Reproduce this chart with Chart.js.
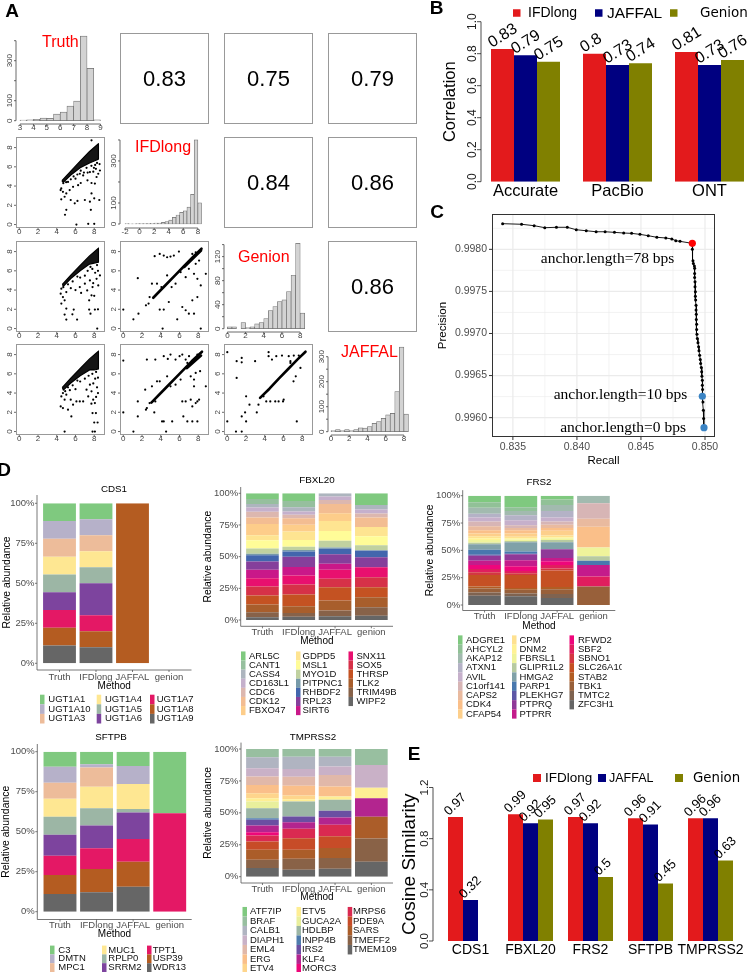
<!DOCTYPE html>
<html>
<head>
<meta charset="utf-8">
<title>IFDlong benchmark figure</title>
<script src="https://cdn.jsdelivr.net/npm/chart.js@4.4.1/dist/chart.umd.min.js"></script>
<style>
  html, body { margin: 0; padding: 0; background: #fff; width: 750px; height: 972px; overflow: hidden; }
  canvas { position: absolute; left: 0; top: 0; }
</style>
</head>
<body>
<script>
// ---------- A: pairs plot ----------
const corrValues = [0.83, 0.75, 0.79, 0.84, 0.86, 0.86];
const pairNames = ['Truth', 'IFDlong', 'Genion', 'JAFFAL'];

const histTruthBins = [3, 3.5, 4, 4.5, 5, 5.5, 6, 6.5, 7, 7.5, 8, 8.5];
const histTruthCounts = [3, 4, 7, 13, 12, 33, 43, 73, 98, 423, 262, 4];
const histIFDBins = [-2, -1.5, -1, -0.5, 0, 0.5, 1, 1.5, 2, 2.5, 3, 3.5, 4, 4.5, 5, 5.5, 6, 6.5, 7, 7.5, 8];
const histIFDCounts = [2, 1, 1, 2, 2, 2, 3, 3, 4, 5, 8, 12, 19, 32, 43, 55, 63, 80, 141, 400, 101];
const histGenionBins = [0, 0.5, 1, 1.5, 2, 2.5, 3, 3.5, 4, 4.5, 5, 5.5, 6, 6.5, 7, 7.5, 8];
const histGenionCounts = [3, 3, 0, 10, 2, 3, 8, 10, 17, 30, 37, 45, 48, 62, 89, 142, 26];
const histJaffalBins = [0, 0.5, 1, 1.5, 2, 2.5, 3, 3.5, 4, 4.5, 5, 5.5, 6, 6.5, 7, 7.5, 8];
const histJaffalCounts = [4, 8, 4, 8, 4, 8, 15, 14, 20, 33, 40, 53, 67, 73, 160, 338, 70];

const scatterTicks = [0, 2, 4, 6, 8];
const scatterTickLabels = ['0', '2', '4', '6', '8'];
const histTruthXTicks = [3, 4, 5, 6, 7, 8, 9];
const histTruthXLabels = ['3', '4', '5', '6', '7', '8', '9'];
const histTruthYTicks = [0, 100, 200, 300, 400];
const histTruthYLabels = ['0', '100', '', '300', ''];
const histIFDXTicks = [-2, 0, 2, 4, 6, 8];
const histIFDXLabels = ['-2', '0', '2', '4', '6', '8'];
const histIFDYTicks = [0, 100, 200, 300, 400];
const histIFDYLabels = ['0', '100', '', '300', ''];
const histGenionYTicks = [0, 20, 40, 60, 80, 100, 120, 140];
const histGenionYLabels = ['0', '', '40', '', '80', '', '120', ''];
const histJaffalYTicks = [0, 50, 100, 150, 200, 250, 300];
const histJaffalYLabels = ['0', '', '100', '', '200', '', '300'];

// lower panels: [x, y] points, dense wedge outlines and dense diagonal bands
const scTruthIFD = [[4.41,3.58],[4.66,3.4],[4.48,2.62],[5.02,3.23],[5.38,3.58],[5.74,3.92],[6.28,4.09],[6.56,4.32],[4.48,3.75],[4.84,2.89],[5.49,2.55],[6.21,2.45],[7.0,2.55],[7.54,2.38],[6.46,5.28],[6.82,5.11],[7.28,4.6],[7.71,4.32],[8.07,4.26],[8.25,4.94],[7.54,5.45],[8.18,5.79],[8.43,5.28],[8.61,5.62],[7.71,3.23],[8.0,2.72],[8.54,2.55],[7.64,1.53],[5.92,2.21],[5.02,1.53],[4.88,1.02],[6.1,0],[7.36,0.07],[8.0,0.07],[7.71,8.75],[6.56,5.6],[7.18,5.9],[7.97,5.9],[8.57,6.29],[6.0,4.77],[5.2,4.43],[7.9,5.5],[5.5,4.7],[5.8,5.0],[6.2,5.2],[4.7,4.3],[5.0,4.4],[7.3,5.4],[6.9,5.4],[8.3,6.4],[7.7,6.1],[8.1,6.2]];
const denseTruthIFD = [[4.55,4.55],[5.5,5.55],[6.5,6.6],[7.5,7.6],[8.45,8.4],[8.45,6.8],[8.0,6.6],[7.5,6.4],[6.5,5.9],[5.5,5.15],[4.7,4.4]];
const scTruthGenion = [[4.49,4.14],[4.42,3.62],[4.66,3.27],[5.02,3.79],[4.84,2.93],[4.49,2.59],[5.02,2.07],[4.84,1.45],[5.02,0.93],[5.81,1.97],[6.17,0.93],[5.67,1.48],[6.46,4.31],[7.0,4.66],[7.25,3.96],[7.54,5.0],[7.82,4.31],[7.46,2.93],[7.71,3.45],[7.6,1.55],[8.07,1.97],[7.46,1.97],[8.32,0],[7.89,4.72],[8.43,4.48],[8.25,5.17],[8.61,5.52],[6.5,5.3],[7.0,5.5],[7.3,6.0],[7.8,6.2],[6.2,5.4],[5.7,4.9],[5.2,4.6],[4.7,4.3],[8.4,6.0],[8.1,5.8],[5.5,4.2],[6.0,4.0],[6.6,3.7],[8.0,3.4],[8.4,2.0],[8.3,6.6],[7.6,6.4]];
const denseTruthGenion = [[4.6,4.6],[5.5,5.55],[6.5,6.55],[7.5,7.55],[8.45,8.35],[8.45,6.9],[8.0,6.8],[7.5,6.7],[6.5,6.0],[5.5,5.2],[4.7,4.4]];
const scTruthJaffal = [[4.66,4.0],[4.49,3.65],[4.84,3.31],[5.02,3.83],[5.49,3.31],[5.74,2.79],[5.2,2.27],[6.1,3.13],[6.46,3.13],[6.82,3.13],[7.18,4.35],[7.36,3.65],[7.54,4.87],[7.71,4.18],[7.89,3.31],[8.07,2.96],[7.82,1.92],[8.18,1.92],[8.0,0.94],[8.36,0.94],[8.07,0],[7.82,0],[4.84,0],[4.42,2.61],[4.66,2.44],[5.56,1.57],[6.5,5.2],[7.0,5.5],[6.2,5.3],[5.7,4.8],[5.2,4.6],[4.9,4.2],[8.4,5.6],[8.1,5.5],[8.3,4.6],[7.9,5.0],[8.2,3.6],[7.7,2.9],[8.4,4.0],[6.0,4.4],[5.4,4.3],[7.4,5.8],[8.2,6.2],[7.8,6.0]];
const denseTruthJaffal = [[4.6,4.6],[5.5,5.55],[6.5,6.55],[7.5,7.55],[8.45,8.35],[8.45,6.5],[8.0,6.4],[7.5,6.4],[6.5,5.8],[5.5,5.05],[4.7,4.3]];
const scIFDGenion = [[0,1.97],[1.08,0.96],[1.62,1.55],[1.55,5.24],[2.42,2.41],[2.7,2.59],[2.81,3.27],[3.06,4.66],[3.35,7.52],[3.89,7.76],[4.32,7.59],[4.68,7.41],[5.04,7.48],[5.4,7.59],[5.94,8.0],[3.89,1.97],[4.32,1.97],[4.2,0],[4.86,2.76],[5.76,0.96],[6.3,2.24],[6.66,1.9],[7.0,1.55],[7.55,1.55],[7.37,2.93],[7.91,3.27],[7.91,5.17],[8.27,4.48],[8.81,5.69],[8.27,0],[7.37,7.76],[7.73,7.93],[8.09,7.07],[3.6,4.66],[4.07,4.31],[4.68,5.52],[5.16,4.31],[5.58,4.66],[6.12,5.86],[6.66,5.34],[7.0,6.21],[7.55,5.69],[7.73,6.73]];
const bandIFDGenion = [[[3.2,3.2],[4.5,4.5],[5.5,5.5],[6.5,6.5],[7.5,7.5],[8.35,8.3]], [[6.5,6.4],[8.3,8.1]]];
const scIFDJaffal = [[0,7.38],[0,1.99],[1.08,0],[1.55,3.13],[1.55,1.57],[2.42,2.27],[2.52,2.44],[2.81,2.96],[3.42,3.13],[2.52,7.48],[3.42,7.48],[3.89,5.22],[3.31,1.99],[4.32,1.05],[4.14,1.05],[5.22,1.05],[4.57,0],[4.32,7.83],[4.75,7.55],[5.04,8.0],[5.58,7.48],[6.01,7.83],[6.3,8.0],[6.66,7.48],[7.02,7.83],[7.91,8.0],[6.3,3.13],[6.66,3.13],[7.2,3.31],[7.37,2.61],[7.73,2.96],[7.91,3.13],[8.09,3.31],[6.84,1.05],[7.37,1.05],[7.91,1.05],[6.41,1.57],[8.81,4.7],[7.55,4.7],[7.55,5.4],[7.2,5.74],[7.73,6.09],[8.2,6.27],[6.12,5.4],[5.58,4.87],[5.04,4.7],[4.68,5.74],[6.84,7.13],[3.6,5.22],[3.06,4.7],[2.34,4.35]];
const bandIFDJaffal = [[[3.0,3.0],[4.5,4.5],[6,6],[7.3,7.3],[8.4,8.3]], [[6.8,6.6],[8.3,7.9]]];
const scGenionJaffal = [[0,8.25],[0,1.05],[1.0,7.31],[1.0,5.57],[1.54,7.65],[1.54,7.2],[0.93,0],[1.54,0],[1.54,1.57],[1.9,1.99],[2.01,1.05],[2.01,3.66],[2.37,2.79],[2.97,7.31],[3.15,1.99],[3.33,2.79],[3.87,3.66],[4.41,8.25],[4.41,7.83],[4.77,7.48],[5.23,7.83],[5.84,7.9],[6.56,7.83],[6.74,7.31],[7.1,7.9],[7.63,7.9],[4.59,3.13],[5.12,3.13],[5.48,3.13],[5.95,3.13],[4.16,3.13],[6.02,3.31],[7.07,5.22],[7.31,5.74],[7.42,1.05],[6.74,7.13],[7.81,6.61]];
const bandGenionJaffal = [[[3.5,3.5],[4.5,4.45],[5.5,5.5],[6.5,6.5],[7.5,7.5],[8.35,8.3]]];

// ---------- B: correlation by platform ----------
const seriesNames = ['IFDlong', 'JAFFAL', 'Genion'];
const platformsB = ['Accurate', 'PacBio', 'ONT'];
const corrIFDlongB = [0.83, 0.80, 0.81];
const corrJAFFALB = [0.79, 0.73, 0.73];
const corrGenionB = [0.75, 0.74, 0.76];
const corrTicksB = [0, 0.2, 0.4, 0.6, 0.8, 1.0];
const corrTickLabelsB = ['0.0', '0.2', '0.4', '0.6', '0.8', '1.0'];

// ---------- C: precision / recall over anchor length ----------
const recallC = [0.83420,0.83568,0.83666,0.83749,0.83840,0.83925,0.83995,0.84073,0.84150,0.84220,0.84293,0.84365,0.84427,0.84492,0.84557,0.84624,0.84694,0.84741,0.84772,0.84805,0.84901,
  0.84901,0.84901,0.84906,0.84909,0.84917,0.84919,0.84919,0.84919,0.84922,0.84922,0.84925,0.84925,0.84927,0.84930,0.84930,0.84932,0.84932,0.84935,0.84935,0.84937,0.84940,0.84945,0.84950,0.84953,0.84958,0.84963,0.84966,0.84971,0.84974,0.84976,0.84979,0.84979,0.84981,0.84979,0.84984,0.84987,0.84989,0.84992];
const precisionC = [0.998305,0.998298,0.998281,0.998257,0.998262,0.998262,0.998233,0.998221,0.998209,0.998209,0.998202,0.998194,0.998190,0.998178,0.998162,0.998143,0.998135,0.998123,0.998103,0.998095,0.998071,
  0.998051,0.998000,0.997865,0.997833,0.997801,0.997774,0.997714,0.997666,0.997615,0.997555,0.997496,0.997444,0.997397,0.997337,0.997278,0.997230,0.997167,0.997111,0.997048,0.996992,0.996941,0.996889,0.996841,0.996794,0.996742,0.996691,0.996643,0.996595,0.996544,0.996492,0.996445,0.996385,0.996334,0.996254,0.996187,0.996088,0.995989,0.995881];
const anchorLabels = ['anchor.length=78 bps', 'anchor.length=10 bps', 'anchor.length=0 bps'];
const anchorRecall = [0.84901, 0.84979, 0.84992];
const anchorPrecision = [0.998071, 0.996254, 0.995881];
const recallTicks = [0.835, 0.840, 0.845, 0.850];
const recallTickLabels = ['0.835', '0.840', '0.845', '0.850'];
const recallMinor = [0.8375, 0.8425, 0.8475];
const precisionTicks = [0.9960, 0.9965, 0.9970, 0.9975, 0.9980];
const precisionTickLabels = ['0.9960', '0.9965', '0.9970', '0.9975', '0.9980'];
const precisionMinor = [0.99625, 0.99675, 0.99725, 0.99775, 0.99825];

// ---------- D: relative isoform abundance ----------
const methodLabels = ['Truth', 'IFDlong', 'JAFFAL', 'genion'];
const pctTicks = [0, 25, 50, 75, 100];
const pctLabels = ['0%', '25%', '50%', '75%', '100%'];

const cds1Genes = ['UGT1A1','UGT1A10','UGT1A3','UGT1A4','UGT1A5','UGT1A6','UGT1A7','UGT1A8','UGT1A9'];
const cds1Truth = [11.1,11.1,11.1,11.1,11.1,11.1,11.1,11.1,11.1];
const cds1IFDlong = [10,10,10,10,10,20,10,10,10];
const cds1JAFFAL = [0,0,0,0,0,0,0,100,0];
const cds1Genion = [0,0,0,0,0,0,0,0,0];

const fbxl20Genes = ['ARL5C','CANT1','CASS4','CD163L1','CDC6','CDK12','FBXO47','GDPD5','MSL1','MYO1D','PITPNC1','RHBDF2','RPL23','SIRT6','SNX11','SOX5','THRSP','TLK2','TRIM49B','WIPF2'];
const fbxl20Truth = [4.5,4,2.6,3.4,4.5,5.3,8.7,4,6.6,4,1.3,4.8,6.6,6.6,6.6,7.1,7.1,6.1,4,2.1];
const fbxl20IFDlong = [6,5,3.4,2.6,2.6,5.3,5.3,6.6,5.3,2.6,1.3,4,8.2,6.6,7.1,7.9,9.3,5.3,3,2.6];
const fbxl20JAFFAL = [0,0,2.6,2.6,3.2,7.4,6,8,7.6,5.3,1,4.5,7.4,4.8,7.1,6.6,10.6,7.9,4.5,2.9];
const fbxl20Genion = [9.3,0,3.4,3.2,3.2,7.4,0,7.4,7.1,4,0,5.3,7.9,0,7.9,7.9,7.9,7.9,6.6,3.4];

const frs2Genes = ['ADGRE1','AHCYL2','AKAP12','ATXN1','AVIL','C1orf141','CAPS2','CDK4','CFAP54','CPM','DNM2','FBRSL1','GLIPR1L2','HMGA2','PARP1','PLEKHG7','PTPRQ','PTPRR','RFWD2','SBF2','SBNO1','SLC26A10','STAB2','TBK1','TMTC2','ZFC3H1'];
const frs2Truth = [6,5,5.5,3.5,3.5,4.5,3.5,3,2.5,2,1.5,2.5,1.5,5,4.5,1,4.5,4,3.5,3,2.5,10.5,2,3.5,3,8.5];
const frs2IFDlong = [10.5,3.5,4,4.5,4.5,2.5,2,3,3,1.5,1,1.5,1,8.5,2,0.5,5.5,5.5,4.5,2,1.5,12,1.5,3.5,2.5,8];
const frs2JAFFAL = [3.5,5,5.5,6,3.5,3,3,2.5,4.5,1.5,1,1.5,2,6.5,0,0,8,3,3.5,3,2,15,2,4.5,3.5,6.5];
const frs2Genion = [0,0,7,0,0,14,7.5,19,0,0,0,8,4,0,4,0,0,10.5,0,9,0,0,0,17,0,0];

const sftpbGenes = ['C3','DMTN','MPC1','MUC1','RPLP0','SRRM2','TPT1','USP39','WDR13'];
const sftpbTruth = [9.4,10,10,11.3,11.3,13.1,12.1,11.9,11];
const sftpbIFDlong = [7.9,1.9,12.1,13.5,10.8,14.2,12.9,14.6,12.1];
const sftpbJAFFAL = [9,11.25,0,15.6,2.1,16.7,14.2,15.6,15.6];
const sftpbGenion = [38.5,0,0,0,0,0,61.5,0,0];

const tmprss2Genes = ['ATF7IP','BRAF','CALB1','DIAPH1','EML4','ERG','ETV4','ETV5','GUCA2A','HDLBP','INPP4B','IRS2','KLF4','MORC3','MRPS6','PDE9A','SARS','TMEFF2','TMEM109'];
const tmprss2Truth = [0,6.5,8.6,6.5,6.5,6.5,4,2.6,5.2,7.8,1.3,4.4,5.2,2.6,4.7,6.5,7.8,6.5,6.8];
const tmprss2IFDlong = [0,6,9.7,6,7,7.8,2.9,1.8,0,11.7,0,4.4,5.2,0,7.3,9.1,7,8.6,5.5];
const tmprss2JAFFAL = [0,6,7.8,6.5,9.1,7.8,0,2.6,0,8.6,0,5.2,5.7,0,9.1,9.1,7.8,8.4,6.3];
const tmprss2Genion = [0,12.5,0,17.8,0,0,0,8.4,0,0,0,0,14.4,0,0,0,17,18.3,11.7];

// ---------- E: cosine similarity ----------
const genesE = ['CDS1', 'FBXL20', 'FRS2', 'SFTPB', 'TMPRSS2'];
const cosIFDlongE = [0.97, 0.99, 0.97, 0.96, 0.96];
const cosJAFFALE = [0.32, 0.92, 0.92, 0.91, 0.96];
const cosGenionE = [null, 0.95, 0.5, 0.45, 0.63];
const cosTicksE = [0, 0.4, 0.8, 1.2];
const cosTickLabelsE = ['0.0', '0.4', '0.8', '1.2'];

// ================= drawing =================
const CW = 760, CH = 972;
const SANS = "'Liberation Sans', Arial, sans-serif";
const SERIF = "'Liberation Serif', 'Times New Roman', serif";
const DEJA = "'DejaVu Sans', sans-serif";
const fnt = (s, fam, w) => (w ? w + ' ' : '') + s + 'px ' + (fam || SANS);
const cRed = '#e31a1c', cNavy = '#000080', cOlive = '#808000';
const accent = ['#7FC97F', '#BEAED4', '#FDC086', '#FFFF99', '#386CB0', '#F0027F', '#BF5B17', '#666666'];

Chart.defaults.font.family = SANS;

function ramp(n) {
  const hex = h => [1, 3, 5].map(i => parseInt(h.substr(i, 2), 16));
  const out = [];
  for (let i = 0; i < n; i++) {
    const p = n === 1 ? 0 : i * (accent.length - 1) / (n - 1);
    const k = Math.min(Math.floor(p), accent.length - 2), t = p - k;
    const a = hex(accent[k]), b = hex(accent[k + 1]);
    out.push('rgb(' + a.map((v, j) => Math.round(v + (b[j] - v) * t)).join(',') + ')');
  }
  return out;
}

function txt(ctx, s, x, y, font, color, align, base, rot) {
  ctx.save();
  ctx.font = font; ctx.fillStyle = color;
  ctx.textAlign = align || 'center'; ctx.textBaseline = base || 'middle';
  ctx.translate(x, y);
  if (rot) ctx.rotate(rot);
  ctx.fillText(s, 0, 0);
  ctx.restore();
}

function makeChart(area, config, deco) {
  const cv = document.createElement('canvas');
  cv.width = CW; cv.height = CH;
  cv.style.width = CW + 'px'; cv.style.height = CH + 'px';
  document.body.appendChild(cv);
  const opts = config.options || {};
  opts.responsive = false; opts.animation = false; opts.events = [];
  opts.layout = { padding: { left: area[0], top: area[1], right: CW - area[2], bottom: CH - area[3] } };
  opts.plugins = Object.assign({ legend: { display: false }, tooltip: { enabled: false } }, opts.plugins || {});
  config.options = opts;
  config.plugins = [{
    id: 'deco',
    beforeDatasetsDraw: c => { if (deco.under) deco.under(c); },
    afterDraw: c => { if (deco.over) deco.over(c); }
  }];
  return new Chart(cv.getContext('2d'), config);
}

// R style axes
function rAxisY(ctx, sc, x, ticks, labels, tl, off, font, color, drawLine) {
  ctx.save(); ctx.strokeStyle = color; ctx.lineWidth = 0.8; ctx.beginPath();
  if (drawLine) { ctx.moveTo(x, sc.getPixelForValue(ticks[0])); ctx.lineTo(x, sc.getPixelForValue(ticks[ticks.length - 1])); }
  ticks.forEach(t => { const p = sc.getPixelForValue(t); ctx.moveTo(x, p); ctx.lineTo(x - tl, p); });
  ctx.stroke(); ctx.restore();
  ticks.forEach((t, i) => { if (labels[i]) txt(ctx, labels[i], x - off, sc.getPixelForValue(t), font, color, 'center', 'middle', -Math.PI / 2); });
}
function rAxisX(ctx, sc, y, ticks, labels, tl, off, font, color, drawLine) {
  ctx.save(); ctx.strokeStyle = color; ctx.lineWidth = 0.8; ctx.beginPath();
  if (drawLine) { ctx.moveTo(sc.getPixelForValue(ticks[0]), y); ctx.lineTo(sc.getPixelForValue(ticks[ticks.length - 1]), y); }
  ticks.forEach(t => { const p = sc.getPixelForValue(t); ctx.moveTo(p, y); ctx.lineTo(p, y + tl); });
  ctx.stroke(); ctx.restore();
  ticks.forEach((t, i) => { if (labels[i]) txt(ctx, labels[i], sc.getPixelForValue(t), y + off, font, color, 'center', 'middle'); });
}

// ---------- panel A ----------
const cellX = [16, 120, 224, 328], cellY = [33, 137, 241, 344], cellW = 89, cellH = 91;
const bandWidths = [2.6, 2.6];
const tickCol = '#444';

function scatterPanel(col, row, pts, bands, dense) {
  const L = cellX[col], T = cellY[row];
  const ds = bands.map((b, i) => ({
    data: b.map(p => ({ x: p[0], y: p[1] })), showLine: true, borderColor: '#000',
    borderWidth: bandWidths[i], pointRadius: 0, borderCapStyle: 'round', borderJoinStyle: 'round'
  }));
  if (dense) {
    const ring = dense.concat([dense[0]]);
    ds.push({ data: ring.map(p => ({ x: p[0], y: p[1] })), showLine: true, fill: 'shape', backgroundColor: '#151515', borderColor: '#000', borderWidth: 1.2, pointRadius: 0, borderJoinStyle: 'round' });
  }
  ds.push({ data: pts.map(p => ({ x: p[0], y: p[1] })), pointRadius: 1.1, pointBackgroundColor: '#000', pointBorderWidth: 0 });
  makeChart([L, T, L + cellW, T + cellH], {
    type: 'scatter', data: { datasets: ds },
    options: { scales: { x: { type: 'linear', display: false, min: -0.35, max: 9.15 }, y: { display: false, min: -0.36, max: 9.1 } } }
  }, {
    over(c) {
      const ctx = c.ctx;
      ctx.save(); ctx.strokeStyle = '#999'; ctx.lineWidth = 1; ctx.strokeRect(L + 0.5, T + 0.5, cellW - 1, cellH - 1); ctx.restore();
      rAxisY(ctx, c.scales.y, L, scatterTicks, scatterTickLabels, 2, 6.5, fnt(8), tickCol, false);
      rAxisX(ctx, c.scales.x, T + cellH, scatterTicks, scatterTickLabels, 2, 4, fnt(8), tickCol, false);
    }
  });
}

function histPanel(col, row, bins, counts, xr, yr, xt, xl, yt, yl, name, nameX, nameY, extra) {
  const L = cellX[col], T = cellY[row];
  makeChart([L, T, L + cellW, T + cellH], {
    type: 'bar',
    data: { datasets: [{ data: bins.map((b, i) => ({ x: b + 0.25, y: counts[i] })), backgroundColor: '#d3d3d3', borderColor: '#6e6e6e', borderWidth: 0.7, borderSkipped: false, barPercentage: 1, categoryPercentage: 1 }] },
    options: { scales: { x: { type: 'linear', display: false, offset: false, min: xr[0], max: xr[1], ticks: { stepSize: 1, includeBounds: false } }, y: { display: false, min: yr[0], max: yr[1] } } }
  }, {
    over(c) {
      const ctx = c.ctx;
      rAxisY(ctx, c.scales.y, L, yt, yl, 2, 6.5, fnt(8), tickCol, true);
      rAxisX(ctx, c.scales.x, T + cellH, xt, xl, 2, 4, fnt(8), tickCol, true);
      txt(ctx, name, nameX, nameY, fnt(16), '#ff0000', 'left', 'middle');
      if (extra) extra(ctx);
    }
  });
}

histPanel(0, 0, histTruthBins, histTruthCounts, [2.70, 9.34], [-16.5, 438.5], histTruthXTicks, histTruthXLabels, histTruthYTicks, histTruthYLabels, pairNames[0], 42, 43, ctx => {
  // upper panels: correlation boxes
  const spots = [[1, 0], [2, 0], [3, 0], [2, 1], [3, 1], [3, 2]];
  spots.forEach((s, i) => {
    const L = cellX[s[0]], T = cellY[s[1]];
    ctx.save(); ctx.strokeStyle = '#999'; ctx.lineWidth = 1; ctx.strokeRect(L + 0.5, T + 0.5, cellW - 1, cellH - 1); ctx.restore();
    txt(ctx, corrValues[i].toFixed(2), L + cellW / 2, T + cellH / 2 + 1, fnt(22), '#000');
  });
  txt(ctx, 'A', 12, 12, fnt(19, SANS, 'bold'), '#000');
});
histPanel(1, 1, histIFDBins, histIFDCounts, [-2.69, 9.53], [-19, 414], histIFDXTicks, histIFDXLabels, histIFDYTicks, histIFDYLabels, pairNames[1], 135, 148);
histPanel(2, 2, histGenionBins, histGenionCounts, [-0.37, 9.41], [-5.5, 146], scatterTicks, scatterTickLabels, histGenionYTicks, histGenionYLabels, pairNames[2], 238, 258);
histPanel(3, 3, histJaffalBins, histJaffalCounts, [-0.33, 9.44], [-13.2, 350.8], scatterTicks, scatterTickLabels, histJaffalYTicks, histJaffalYLabels, pairNames[3], 341, 353);

scatterPanel(0, 1, scTruthIFD, [], denseTruthIFD);
scatterPanel(0, 2, scTruthGenion, [], denseTruthGenion);
scatterPanel(0, 3, scTruthJaffal, [], denseTruthJaffal);
scatterPanel(1, 2, scIFDGenion, bandIFDGenion);
scatterPanel(1, 3, scIFDJaffal, bandIFDJaffal);
scatterPanel(2, 3, scGenionJaffal, bandGenionJaffal);

// ---------- grouped bars (B, E) ----------
function groupedBars(area, cats, series, yMax, axisX, ticks, tickLabels, tickOff, tickFont, yTitle, yTitleX, yTitleFont, catY, catFont, valFont, valAngle, legend, letter) {
  const colors = [cRed, cNavy, cOlive];
  makeChart(area, {
    type: 'bar',
    data: { labels: cats, datasets: series.map((s, i) => ({ label: seriesNames[i], data: s, backgroundColor: colors[i], borderWidth: 0, categoryPercentage: 0.75, barPercentage: 1 })) },
    options: { scales: { x: { display: false }, y: { display: false, min: 0, max: yMax } } }
  }, {
    over(c) {
      const ctx = c.ctx, xs = c.scales.x, ys = c.scales.y;
      rAxisY(ctx, ys, axisX, ticks, tickLabels, 4, tickOff, tickFont, '#222', true);
      txt(ctx, yTitle, yTitleX, ys.getPixelForValue(yMax / 2), yTitleFont, '#000', 'center', 'middle', -Math.PI / 2);
      cats.forEach((k, i) => txt(ctx, k, xs.getPixelForValue(i), catY, catFont, '#000'));
      c.data.datasets.forEach((ds, di) => {
        c.getDatasetMeta(di).data.forEach((bar, i) => {
          const v = ds.data[i];
          if (v === null || v === undefined) return;
          txt(ctx, String(v), bar.x - bar.width / 2 + 1, bar.y - 1, valFont, '#000', 'left', 'alphabetic', -valAngle * Math.PI / 180);
        });
      });
      legend.forEach((l, i) => {
        ctx.fillStyle = colors[i];
        ctx.fillRect(l.sq, l.y - l.s / 2, l.s, l.s);
        txt(ctx, seriesNames[i], l.tx, l.y + 0.5, l.font, '#000', 'left', 'middle');
      });
      txt(ctx, letter[0], letter[1], letter[2], fnt(19, SANS, 'bold'), '#000');
    }
  });
}

groupedBars([479.5, 21.7, 755.5, 181.7], platformsB, [corrIFDlongB, corrJAFFALB, corrGenionB], 1.0, 481,
  corrTicksB, corrTickLabelsB, 8.5, fnt(12), 'Correlation', 450, fnt(16.5), 191, fnt(16.5), fnt(16), 32,
  [{ sq: 513, tx: 528, y: 13, s: 7.5, font: fnt(14) }, { sq: 595, tx: 607, y: 13, s: 7.5, font: fnt(15.5) }, { sq: 670, tx: 700, y: 13, s: 7.5, font: fnt(13.5, DEJA) }],
  ['B', 436.5, 8.5]);

groupedBars([440.5, 787.5, 740.5, 941], genesE, [cosIFDlongE, cosJAFFALE, cosGenionE], 1.2, 433,
  cosTicksE, cosTickLabelsE, 8, fnt(11.5), 'Cosine Similarity', 410, fnt(19), 950, fnt(14), fnt(13), 45,
  [{ sq: 533, tx: 545, y: 778, s: 8, font: fnt(13.5) }, { sq: 598, tx: 609, y: 778, s: 8, font: fnt(12.5) }, { sq: 675, tx: 693, y: 778, s: 8, font: fnt(13.3, DEJA) }],
  ['E', 414, 755]);

// ---------- panel C ----------
makeChart([492, 214, 715, 437], {
  type: 'scatter',
  data: {
    datasets: [
      { data: anchorRecall.map((x, i) => ({ x, y: anchorPrecision[i] })), pointRadius: 3.6, pointBackgroundColor: ['#ff0000', '#3b84c4', '#3b84c4'], pointBorderWidth: 0 },
      { data: recallC.map((x, i) => ({ x, y: precisionC[i] })), showLine: true, borderColor: '#000', borderWidth: 0.9, pointRadius: 1.5, pointBackgroundColor: '#000', pointBorderWidth: 0 }
    ]
  },
  options: { scales: { x: { type: 'linear', display: false, min: 0.83337, max: 0.85078 }, y: { display: false, min: 0.99577, max: 0.99842 } } }
}, {
  under(c) {
    const ctx = c.ctx, a = c.chartArea, xs = c.scales.x, ys = c.scales.y;
    ctx.save();
    ctx.fillStyle = '#fff'; ctx.fillRect(a.left, a.top, a.width, a.height);
    ctx.strokeStyle = '#ebebeb';
    const vl = v => { const p = xs.getPixelForValue(v); ctx.moveTo(p, a.top); ctx.lineTo(p, a.bottom); };
    const hl = v => { const p = ys.getPixelForValue(v); ctx.moveTo(a.left, p); ctx.lineTo(a.right, p); };
    ctx.lineWidth = 0.6; ctx.beginPath(); recallMinor.forEach(vl); precisionMinor.forEach(hl); ctx.stroke();
    ctx.lineWidth = 1.2; ctx.beginPath(); recallTicks.forEach(vl); precisionTicks.forEach(hl); ctx.stroke();
    ctx.restore();
  },
  over(c) {
    const ctx = c.ctx, a = c.chartArea, xs = c.scales.x, ys = c.scales.y;
    ctx.save(); ctx.strokeStyle = '#333'; ctx.lineWidth = 1;
    ctx.strokeRect(a.left + 0.5, a.top + 0.5, a.width - 1, a.height - 1);
    ctx.beginPath();
    recallTicks.forEach(v => { const p = xs.getPixelForValue(v); ctx.moveTo(p, a.bottom); ctx.lineTo(p, a.bottom + 3); });
    precisionTicks.forEach(v => { const p = ys.getPixelForValue(v); ctx.moveTo(a.left, p); ctx.lineTo(a.left - 3, p); });
    ctx.stroke(); ctx.restore();
    recallTicks.forEach((v, i) => txt(ctx, recallTickLabels[i], xs.getPixelForValue(v), a.bottom + 10, fnt(10.5), '#4d4d4d'));
    precisionTicks.forEach((v, i) => txt(ctx, precisionTickLabels[i], a.left - 5, ys.getPixelForValue(v), fnt(10.5), '#4d4d4d', 'right', 'middle'));
    txt(ctx, 'Recall', (a.left + a.right) / 2, 460.5, fnt(11.5), '#000');
    txt(ctx, 'Precision', 443, (a.top + a.bottom) / 2, fnt(11.5), '#000', 'center', 'middle', -Math.PI / 2);
    const offs = [[-18, 16], [-15, -1], [-18, 0]];
    anchorLabels.forEach((s, i) => {
      txt(ctx, s, xs.getPixelForValue(anchorRecall[i]) + offs[i][0], ys.getPixelForValue(anchorPrecision[i]) + offs[i][1], fnt(15.5, SERIF), '#000', 'right', 'middle');
    });
    txt(ctx, 'C', 437, 212.5, fnt(19, SANS, 'bold'), '#000');
  }
});

// ---------- panel D ----------
function stackPanel(g, title, genes, truth, ifd, jaffal, genion) {
  const cols = ramp(genes.length);
  const per = [truth, ifd, jaffal, genion].map(arr => {
    const s = arr.reduce((p, q) => p + q, 0);
    return arr.map(v => (s ? v / s * 100 : 0));
  });
  const datasets = genes.map((gn, i) => ({ label: gn, data: per.map(p => p[i]), backgroundColor: cols[i], borderWidth: 0, barPercentage: 0.9, categoryPercentage: 1 })).reverse();
  makeChart(g.area, {
    type: 'bar',
    data: { labels: methodLabels, datasets },
    options: { scales: { x: { display: false, stacked: true }, y: { display: false, stacked: true, min: 0, max: 100 } } }
  }, {
    over(c) {
      const ctx = c.ctx, xs = c.scales.x, ys = c.scales.y;
      ctx.save(); ctx.strokeStyle = '#555'; ctx.lineWidth = 0.8; ctx.beginPath();
      ctx.moveTo(g.axisX, g.axisTop); ctx.lineTo(g.axisX, g.axisY); ctx.lineTo(g.axisRight, g.axisY);
      pctTicks.forEach(t => { const p = ys.getPixelForValue(t); ctx.moveTo(g.axisX - 2, p); ctx.lineTo(g.axisX, p); });
      methodLabels.forEach((m, i) => { const p = xs.getPixelForValue(i); ctx.moveTo(p, g.axisY); ctx.lineTo(p, g.axisY + 2); });
      ctx.stroke(); ctx.restore();
      pctTicks.forEach((t, i) => txt(ctx, pctLabels[i], g.axisX - 2.5, ys.getPixelForValue(t), fnt(9.5), '#4d4d4d', 'right', 'middle'));
      methodLabels.forEach((m, i) => txt(ctx, m, xs.getPixelForValue(i), g.xLabY, fnt(9.5), '#4d4d4d'));
      txt(ctx, 'Method', (g.axisX + g.axisRight) / 2, g.methodY, fnt(10), '#000');
      txt(ctx, 'Relative abundance', g.ylabX, (g.axisTop + g.axisY) / 2, fnt(10.4), '#000', 'center', 'middle', -Math.PI / 2);
      txt(ctx, title, g.titleX, g.titleY, fnt(9.8), '#000');
      ctx.save();
      if (g.clipX) { ctx.beginPath(); ctx.rect(0, 0, g.clipX, CH); ctx.clip(); }
      genes.forEach((gn, i) => {
        const k = Math.floor(i / g.nrow), r = i % g.nrow, yy = g.legY + r * g.legDy;
        ctx.fillStyle = cols[i];
        ctx.fillRect(g.cols[k][0], yy - g.legDy / 2, 4.5, g.legDy);
        txt(ctx, gn, g.cols[k][1], yy, fnt(9.5), '#111', 'left', 'middle');
      });
      ctx.restore();
      if (g.letter) txt(ctx, g.letter[0], g.letter[1], g.letter[2], fnt(19, SANS, 'bold'), '#000');
    }
  });
}

stackPanel({ area: [41.25, 503.3, 187.25, 663.3], axisX: 37, axisTop: 495, axisY: 670, axisRight: 191.5, xLabY: 677, methodY: 686.5, ylabX: 7, titleX: 114, titleY: 489,
  cols: [[40, 48.3], [96.7, 105], [150, 156.7]], legY: 699.5, legDy: 9.6, nrow: 3, letter: ['D', 4, 471] },
  'CDS1', cds1Genes, cds1Truth, cds1IFDlong, cds1JAFFAL, cds1Genion);
stackPanel({ area: [244.3, 493.3, 389.5, 620], axisX: 240.7, axisTop: 487, axisY: 626.3, axisRight: 393, xLabY: 632, methodY: 641, ylabX: 208.5, titleX: 317, titleY: 480,
  cols: [[241, 249], [296, 302.5], [348.5, 356.5]], legY: 656, legDy: 9.1, nrow: 7 },
  'FBXL20', fbxl20Genes, fbxl20Truth, fbxl20IFDlong, fbxl20JAFFAL, fbxl20Genion);
stackPanel({ area: [466.4, 495.7, 611.6, 605], axisX: 462.7, axisTop: 490.2, axisY: 610.5, axisRight: 615.3, xLabY: 616, methodY: 626, ylabX: 430, titleX: 539, titleY: 482.7,
  cols: [[458, 466], [512, 519.5], [569.5, 578]], legY: 640, legDy: 9.25, nrow: 9, clipX: 621.7 },
  'FRS2', frs2Genes, frs2Truth, frs2IFDlong, frs2JAFFAL, frs2Genion);
stackPanel({ area: [41.7, 751.7, 188, 911.7], axisX: 37.3, axisTop: 744, axisY: 919.5, axisRight: 191.7, xLabY: 925.5, methodY: 934.5, ylabX: 6, titleX: 111, titleY: 737.3,
  cols: [[50, 58.3], [102, 108.3], [147, 152.7]], legY: 950, legDy: 8.8, nrow: 3 },
  'SFTPB', sftpbGenes, sftpbTruth, sftpbIFDlong, sftpbJAFFAL, sftpbGenion);
stackPanel({ area: [244.3, 749, 389.5, 876.7], axisX: 241, axisTop: 742.6, axisY: 883, axisRight: 393, xLabY: 889, methodY: 897.5, ylabX: 208, titleX: 313, titleY: 737,
  cols: [[242.5, 250], [296.5, 302], [347.7, 353]], legY: 911.7, legDy: 9.5, nrow: 7 },
  'TMPRSS2', tmprss2Genes, tmprss2Truth, tmprss2IFDlong, tmprss2JAFFAL, tmprss2Genion);
</script>
</body>
</html>
